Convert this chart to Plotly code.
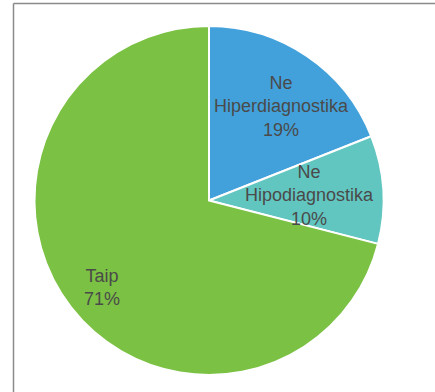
import math
import plotly.graph_objects as go

# Survey answers and their shares
labels = ["Ne<br>Hiperdiagnostika", "Ne<br>Hipodiagnostika", "Taip"]
values = [19, 10, 71]
colors = ["#42a1db", "#62c6c0", "#7bc143"]

W, H = 435, 392
cx, cy, r = 209, 200.5, 174.5
FONT = "Liberation Sans, Arial, sans-serif"

fig = go.Figure(go.Pie(
    labels=labels,
    values=values,
    sort=False,
    direction="clockwise",
    rotation=0,
    marker=dict(colors=colors, line=dict(color="#ffffff", width=2)),
    textinfo="none",
    hoverinfo="label+percent",
    domain=dict(x=[(cx - r) / W, (cx + r) / W], y=[(H - cy - r) / H, (H - cy + r) / H]),
    showlegend=False,
))

# Slice labels placed along each slice's bisector
radial = [0.68, 0.578, 0.789]
nudge = [3.7, 0.6, -1.2]  # degrees
total = sum(values)
start = 0.0
for lab, v, fr, dn in zip(labels, values, radial, nudge):
    mid = (start + v / 2) / total * 360 + dn
    start += v
    px = cx + fr * r * math.sin(math.radians(mid))
    py = cy - fr * r * math.cos(math.radians(mid))
    fig.add_annotation(
        x=px / W, y=1 - py / H, xref="paper", yref="paper",
        text=f"{lab}<br>{round(v / total * 100)}%",
        showarrow=False, xanchor="center", yanchor="middle", align="center",
        font=dict(family=FONT, size=18, color="#4a4a4a"),
    )

# Frame around the chart area (open on the right and bottom)
fig.add_shape(type="line", xref="paper", yref="paper",
              x0=13.5 / W, x1=1, y0=1 - 3.5 / H, y1=1 - 3.5 / H,
              line=dict(color="#8a8a8a", width=1.5))
fig.add_shape(type="line", xref="paper", yref="paper",
              x0=13.5 / W, x1=13.5 / W, y0=0, y1=1 - 3.5 / H,
              line=dict(color="#8a8a8a", width=1.5))

fig.update_layout(
    width=W, height=H,
    margin=dict(l=0, r=0, t=0, b=0),
    paper_bgcolor="#ffffff",
    plot_bgcolor="#ffffff",
)

fig.write_html("out.html")
